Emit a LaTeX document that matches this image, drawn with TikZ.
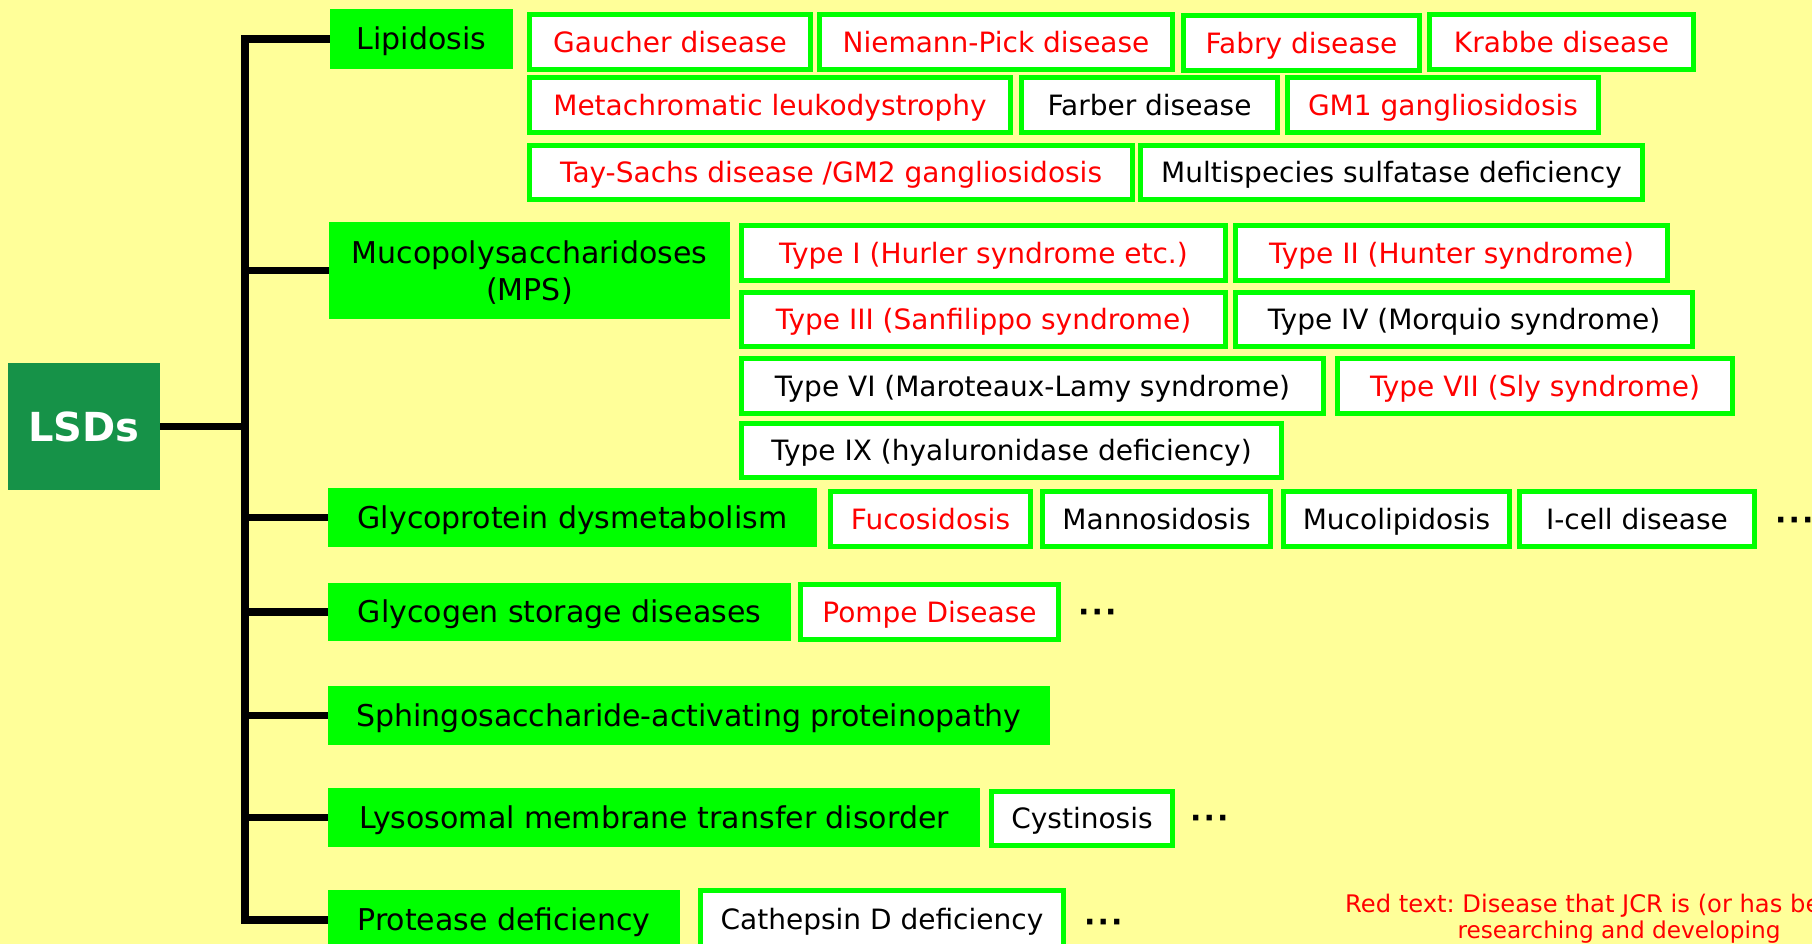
\documentclass[tikz,border=0pt]{standalone}
\usepackage{fontspec}
\setmainfont{DejaVu Sans}
\frenchspacing
\definecolor{bgyellow}{RGB}{255,255,153}
\definecolor{brightgreen}{RGB}{0,255,0}
\definecolor{lsdgreen}{RGB}{22,146,72}
\definecolor{notered}{RGB}{255,0,0}
\tikzset{
  catg/.style={fill=brightgreen, inner sep=0pt, text height=21.9pt, text depth=0pt, font=\fontsize{30}{36}\selectfont},
  cattext/.style={inner sep=0pt, anchor=base, font=\fontsize{30}{36}\selectfont},
  dbox/.style={draw=brightgreen, line width=5pt, fill=white, inner sep=0pt, text height=20.4pt, text depth=0pt, font=\fontsize{28}{34}\selectfont},
  rt/.style={text=notered},
  busline/.style={line width=7.5pt, draw=black, line join=miter},
  moredots/.style={font=\bfseries\fontsize{30}{36}\selectfont, inner sep=0pt, anchor=base west},
  notetext/.style={font=\fontsize{23.2}{26}\selectfont, text=notered, inner sep=0pt},
}
\newcommand\catnode[6]{\node[catg, minimum width={#4-#2}, minimum height={#5-#3}] (#1) at ({(#2+#4)/2},{(#3+#5)/2}) {#6};}
\newcommand\disnode[7]{\node[dbox, #6, minimum width={#4-#2-5}, minimum height={#5-#3-5}] (#1) at ({(#2+#4)/2},{(#3+#5)/2}) {#7};}
\newcommand\threedots{·\kern2pt·\kern2pt·}
\begin{document}
\begin{tikzpicture}[x=1pt, y=-1pt]
\useasboundingbox (0,0) rectangle (1812,944);
\clip (0,0) rectangle (1812,944);
\fill[bgyellow] (0,0) rectangle (1812,944);

% root
\node[fill=lsdgreen, text=white, font=\bfseries\fontsize{40}{48}\selectfont, inner sep=0pt,
      text height=29.2pt, text depth=0pt, minimum width=152pt, minimum height=127pt] (lsd) at (84,426.5) {LSDs};

% categories
\catnode{lip}{330}{9}{513}{69}{Lipidosis}
\catnode{mps}{329}{222}{730}{319}{}
\node[cattext] (mpsa) at (529.5,263) {Mucopolysaccharidoses};
\node[cattext] (mpsb) at (529.5,300) {(MPS)};
\catnode{gly}{328}{488}{817}{547}{Glycoprotein dysmetabolism}
\catnode{gsd}{328}{583}{791}{641}{Glycogen storage diseases}
\catnode{sph}{328}{686}{1050}{745}{Sphingosaccharide-activating proteinopathy}
\catnode{lys}{328}{788}{980}{847}{Lysosomal membrane transfer disorder}
\catnode{pro}{328}{890}{680}{950}{Protease deficiency}

% bus
\coordinate (bx) at (245,0);
\draw[busline] (lip.west) -| (bx |- pro.west) -- (pro.west);
\draw[busline] (lsd.east) -- (lsd.east -| bx);
\draw[busline] (mps.west) -- (mps.west -| bx);
\draw[busline] (gly.west) -- (gly.west -| bx);
\draw[busline] (gsd.west) -- (gsd.west -| bx);
\draw[busline] (sph.west) -- (sph.west -| bx);
\draw[busline] (lys.west) -- (lys.west -| bx);

% lipidosis
\disnode{gau}{527}{12}{813}{72}{rt}{Gaucher disease}
\disnode{nie}{817}{12}{1175}{72}{rt}{Niemann-Pick disease}
\disnode{fab}{1181}{13}{1422}{73}{rt}{Fabry disease}
\disnode{kra}{1427}{12}{1696}{72}{rt}{Krabbe disease}
\disnode{met}{527}{75}{1013}{135}{rt}{Metachromatic leukodystrophy}
\disnode{far}{1019}{75}{1280}{135}{}{Farber disease}
\disnode{gmo}{1285}{75}{1601}{135}{rt}{GM1 gangliosidosis}
\disnode{tay}{527}{143}{1135}{202}{rt}{Tay-Sachs disease /GM2 gangliosidosis}
\disnode{mul}{1138}{143}{1645}{202}{}{Multispecies sulfatase deficiency}

% MPS
\disnode{ta}{739}{223}{1228}{283}{rt}{Type I (Hurler syndrome etc.)}
\disnode{tb}{1233}{223}{1670}{283}{rt}{Type II (Hunter syndrome)}
\disnode{tc}{739}{290}{1228}{349}{rt}{Type III (Sanfilippo syndrome)}
\disnode{td}{1233}{290}{1695}{349}{}{Type IV (Morquio syndrome)}
\disnode{tf}{739}{356}{1326}{416}{}{Type VI (Maroteaux-Lamy syndrome)}
\disnode{tg}{1335}{356}{1735}{416}{rt}{Type VII (Sly syndrome)}
\disnode{ti}{739}{421}{1284}{480}{}{Type IX (hyaluronidase deficiency)}

% glycoprotein
\disnode{fuc}{828}{489}{1033}{549}{rt}{Fucosidosis}
\disnode{man}{1040}{489}{1273}{549}{}{Mannosidosis}
\disnode{muc}{1281}{489}{1512}{549}{}{Mucolipidosis}
\disnode{icl}{1517}{489}{1757}{549}{}{I-cell disease}
\node[moredots] (da) at (1775,530) {\threedots};

% glycogen
\disnode{pom}{798}{582}{1061}{642}{rt}{Pompe Disease}
\node[moredots] (db) at (1078,622.5) {\threedots};

% lysosomal membrane
\disnode{cys}{989}{789}{1175}{848}{}{Cystinosis}
\node[moredots] (dc) at (1190,828.5) {\threedots};

% protease
\disnode{cth}{698}{888}{1066}{950}{}{Cathepsin D deficiency}
\node[moredots] (dd) at (1084,932.5) {\threedots};

% note
\node[notetext, anchor=base west, font=\fontsize{24.2}{26}\selectfont] (notea) at (1345,912) {Red text: Disease that JCR is (or has been)};
\node[notetext, anchor=base] (noteb) at (1619,938) {researching and developing};
\end{tikzpicture}
\end{document}
